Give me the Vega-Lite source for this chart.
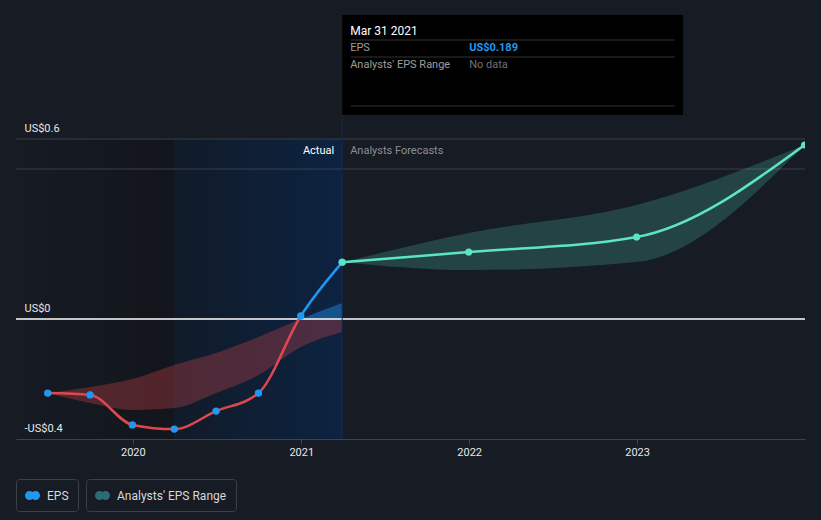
{
  "$schema": "https://vega.github.io/schema/vega-lite/v6.json",
  "autosize": {"type": "none"},
  "width": 789,
  "height": 324,
  "padding": {"left": 16, "top": 115, "right": 16, "bottom": 81},
  "background": "#161b24",
  "config": {
    "font": "Roboto",
    "view": {"stroke": null, "fill": null},
    "axis": {"grid": false, "labelFontSize": 11, "labelColor": "#e8e8e8", "labelFlush": false, "zindex": 1},
    "axisX": {"tickColor": "#3d424b", "tickSize": 5, "domainColor": "#3d424b", "labelPadding": 2},
    "axisY": {"domain": false, "ticks": false, "labelAlign": "left", "labelBaseline": "bottom", "labelPadding": -8, "labelOffset": -6, "labelOverlap": false, "labelBound": false}
  },
  "data": {"values": [{"note": "annotation"}]},
  "datasets": {
    "past": [
      {"date": "2019-06-30", "eps": -0.247},
      {"date": "2019-09-30", "eps": -0.253},
      {"date": "2019-12-31", "eps": -0.353},
      {"date": "2020-03-31", "eps": -0.367},
      {"date": "2020-06-30", "eps": -0.307},
      {"date": "2020-09-30", "eps": -0.247},
      {"date": "2020-12-31", "eps": 0.01},
      {"date": "2021-03-31", "eps": 0.189}
    ],
    "forecast": [
      {"date": "2021-03-31", "eps": 0.189},
      {"date": "2021-12-31", "eps": 0.223},
      {"date": "2022-12-31", "eps": 0.273},
      {"date": "2023-12-31", "eps": 0.58}
    ],
    "pastRange": [
      {"date": "2019-06-30", "lo": -0.247, "hi": -0.247},
      {"date": "2019-09-30", "lo": -0.28, "hi": -0.227},
      {"date": "2019-12-31", "lo": -0.303, "hi": -0.2},
      {"date": "2020-03-31", "lo": -0.297, "hi": -0.153},
      {"date": "2020-06-30", "lo": -0.247, "hi": -0.113},
      {"date": "2020-09-30", "lo": -0.187, "hi": -0.06},
      {"date": "2020-12-31", "lo": -0.093, "hi": 0.0},
      {"date": "2021-03-31", "lo": -0.043, "hi": 0.053}
    ],
    "forecastRange": [
      {"date": "2021-03-31", "lo": 0.189, "hi": 0.189},
      {"date": "2021-12-31", "lo": 0.163, "hi": 0.287},
      {"date": "2022-12-31", "lo": 0.19, "hi": 0.38},
      {"date": "2023-12-31", "lo": 0.58, "hi": 0.58}
    ],
    "legendEps": [{"s": "EPS"}],
    "legendRange": [{"s": "Analysts' EPS Range"}]
  },
  "layer": [
    {
      "mark": {"type": "rect", "color": {"gradient": "linear", "x1": 0, "y1": 0, "x2": 1, "y2": 0, "stops": [{"offset": 0, "color": "#161b24"}, {"offset": 1, "color": "#12151b"}]}},
      "encoding": {
        "x": {"datum": {"year": 2019, "month": 4, "date": 22, "utc": true}, "type": "temporal", "title": null,
              "scale": {"type": "utc", "domain": [{"year": 2019, "month": 4, "date": 22, "utc": true}, {"year": 2024, "month": 1, "date": 1, "utc": true}]}},
        "x2": {"datum": {"year": 2020, "month": 3, "date": 31, "utc": true}},
        "y": {"datum": 0.6, "type": "quantitative", "title": null,
              "scale": {"domain": [-0.4, 0.68], "nice": false, "zero": false}},
        "y2": {"datum": -0.4}
      }
    },
    {
      "mark": {"type": "rect", "color": {"gradient": "linear", "x1": 0, "y1": 0, "x2": 1, "y2": 0, "stops": [{"offset": 0, "color": "#111b29"}, {"offset": 1, "color": "#0c2341"}]}},
      "encoding": {
        "x": {"datum": {"year": 2020, "month": 3, "date": 31, "utc": true}, "type": "temporal", "title": null},
        "x2": {"datum": {"year": 2021, "month": 3, "date": 31, "utc": true}},
        "y": {"datum": 0.6, "type": "quantitative", "title": null},
        "y2": {"datum": -0.4}
      }
    },
    {
      "mark": {"type": "rule", "color": "#3a3f4a", "strokeWidth": 1},
      "encoding": {"y": {"datum": 0.6, "type": "quantitative", "title": null}}
    },
    {
      "mark": {"type": "rule", "color": "#3a3f4a", "strokeWidth": 1},
      "encoding": {"y": {"datum": 0.5, "type": "quantitative", "title": null}}
    },
    {
      "data": {"name": "pastRange"},
      "mark": {"type": "area", "interpolate": "monotone",
               "fill": {"gradient": "linear", "x1": 0, "y1": 0, "x2": 0, "y2": 1, "stops": [{"offset": 0, "color": "rgba(33,150,243,0.42)"}, {"offset": 0.149, "color": "rgba(33,150,243,0.42)"}, {"offset": 0.149, "color": "rgba(224,71,76,0.3)"}, {"offset": 1, "color": "rgba(224,71,76,0.3)"}]}},
      "encoding": {
        "x": {"field": "date", "type": "temporal", "title": null},
        "y": {"field": "hi", "type": "quantitative", "title": null},
        "y2": {"field": "lo"}
      }
    },
    {
      "data": {"name": "forecastRange"},
      "mark": {"type": "area", "interpolate": "monotone", "fill": "#5de4c7", "fillOpacity": 0.2, "clip": true},
      "encoding": {
        "x": {"field": "date", "type": "temporal", "title": null},
        "y": {"field": "hi", "type": "quantitative", "title": null},
        "y2": {"field": "lo"}
      }
    },
    {
      "mark": {"type": "rule", "color": "#ffffff", "strokeWidth": 1.5},
      "encoding": {"y": {"datum": 0, "type": "quantitative", "title": null}}
    },
    {
      "mark": {"type": "rule", "color": "#16294a", "strokeWidth": 1},
      "encoding": {
        "x": {"datum": {"year": 2021, "month": 3, "date": 31, "utc": true}, "type": "temporal", "title": null},
        "y": {"datum": 0.68, "type": "quantitative", "title": null},
        "y2": {"datum": -0.4}
      }
    },
    {
      "data": {"name": "past"},
      "mark": {"type": "line", "interpolate": "monotone", "strokeWidth": 2.5,
               "stroke": {"gradient": "linear", "x1": 0, "y1": 0, "x2": 0, "y2": 1, "stops": [{"offset": 0, "color": "#2196f3"}, {"offset": 0.34, "color": "#2196f3"}, {"offset": 0.34, "color": "#e0474c"}, {"offset": 1, "color": "#e0474c"}]}},
      "encoding": {
        "x": {"field": "date", "type": "temporal", "title": null,
              "axis": {"zindex": 1, "values": [{"year": 2020, "month": 1, "date": 1, "utc": true}, {"year": 2021, "month": 1, "date": 1, "utc": true}, {"year": 2022, "month": 1, "date": 1, "utc": true}, {"year": 2023, "month": 1, "date": 1, "utc": true}], "format": "%Y"}},
        "y": {"field": "eps", "type": "quantitative", "title": null,
              "axis": {"zindex": 1, "values": [-0.4, 0, 0.6], "labelExpr": "datum.value < 0 ? '-US$' + format(-datum.value, '') : 'US$' + format(datum.value, '')"}}
      }
    },
    {
      "data": {"name": "forecast"},
      "mark": {"type": "line", "interpolate": "monotone", "strokeWidth": 2.5, "stroke": "#5de4c7", "clip": true},
      "encoding": {
        "x": {"field": "date", "type": "temporal", "title": null},
        "y": {"field": "eps", "type": "quantitative", "title": null}
      }
    },
    {
      "data": {"name": "past"},
      "transform": [{"filter": "datum.date !== '2021-03-31'"}],
      "mark": {"type": "point", "filled": true, "fill": "#2196f3", "opacity": 1, "size": 55},
      "encoding": {
        "x": {"field": "date", "type": "temporal", "title": null},
        "y": {"field": "eps", "type": "quantitative", "title": null}
      }
    },
    {
      "data": {"name": "forecast"},
      "transform": [{"filter": "datum.date !== '2021-03-31'"}],
      "mark": {"type": "point", "filled": true, "fill": "#5de4c7", "opacity": 1, "size": 50, "clip": true},
      "encoding": {
        "x": {"field": "date", "type": "temporal", "title": null},
        "y": {"field": "eps", "type": "quantitative", "title": null}
      }
    },
    {
      "data": {"name": "past"},
      "transform": [{"filter": "datum.date === '2021-03-31'"}],
      "mark": {"type": "point", "filled": true, "fill": "#2196f3", "stroke": "#cfe3f7", "strokeWidth": 1.2, "opacity": 1, "size": 60},
      "encoding": {
        "x": {"field": "date", "type": "temporal", "title": null},
        "y": {"field": "eps", "type": "quantitative", "title": null}
      }
    },
    {
      "mark": {"type": "text", "align": "right", "baseline": "middle", "dx": -8, "fontSize": 11, "color": "#ffffff"},
      "encoding": {
        "x": {"datum": {"year": 2021, "month": 3, "date": 31, "utc": true}, "type": "temporal", "title": null},
        "y": {"datum": 0.56, "type": "quantitative", "title": null},
        "text": {"value": "Actual"}
      }
    },
    {
      "mark": {"type": "text", "align": "left", "baseline": "middle", "dx": 8, "fontSize": 11, "color": "#8a8f98"},
      "encoding": {
        "x": {"datum": {"year": 2021, "month": 3, "date": 31, "utc": true}, "type": "temporal", "title": null},
        "y": {"datum": 0.56, "type": "quantitative", "title": null},
        "text": {"value": "Analysts Forecasts"}
      }
    },
    {
      "mark": {"type": "rect", "color": "#000000"},
      "encoding": {
        "x": {"datum": {"year": 2021, "month": 3, "date": 31, "utc": true}, "type": "temporal", "title": null},
        "x2": {"datum": {"year": 2023, "month": 4, "date": 11, "utc": true}},
        "y": {"datum": 1.0133, "type": "quantitative", "title": null},
        "y2": {"datum": 0.68}
      }
    },
    {
      "mark": {"type": "rule", "color": "#333333", "strokeWidth": 1},
      "encoding": {
        "x": {"datum": {"year": 2021, "month": 4, "date": 19, "utc": true}, "type": "temporal", "title": null},
        "x2": {"datum": {"year": 2023, "month": 3, "date": 24, "utc": true}},
        "y": {"datum": 0.93, "type": "quantitative", "title": null}
      }
    },
    {
      "mark": {"type": "rule", "color": "#333333", "strokeWidth": 1},
      "encoding": {
        "x": {"datum": {"year": 2021, "month": 4, "date": 19, "utc": true}, "type": "temporal", "title": null},
        "x2": {"datum": {"year": 2023, "month": 3, "date": 24, "utc": true}},
        "y": {"datum": 0.8733, "type": "quantitative", "title": null}
      }
    },
    {
      "mark": {"type": "rule", "color": "#333333", "strokeWidth": 1},
      "encoding": {
        "x": {"datum": {"year": 2021, "month": 4, "date": 19, "utc": true}, "type": "temporal", "title": null},
        "x2": {"datum": {"year": 2023, "month": 3, "date": 24, "utc": true}},
        "y": {"datum": 0.71, "type": "quantitative", "title": null}
      }
    },
    {
      "mark": {"type": "text", "align": "left", "baseline": "middle", "dx": 8, "fontSize": 12, "color": "#ffffff"},
      "encoding": {
        "x": {"datum": {"year": 2021, "month": 3, "date": 31, "utc": true}, "type": "temporal", "title": null},
        "y": {"datum": 0.96, "type": "quantitative", "title": null},
        "text": {"value": "Mar 31 2021"}
      }
    },
    {
      "mark": {"type": "text", "align": "left", "baseline": "middle", "dx": 8, "fontSize": 11, "color": "#9e9e9e"},
      "encoding": {
        "x": {"datum": {"year": 2021, "month": 3, "date": 31, "utc": true}, "type": "temporal", "title": null},
        "y": {"datum": 0.9033, "type": "quantitative", "title": null},
        "text": {"value": "EPS"}
      }
    },
    {
      "mark": {"type": "text", "align": "left", "baseline": "middle", "dx": 127, "fontSize": 11, "fontWeight": "bold", "color": "#2196f3"},
      "encoding": {
        "x": {"datum": {"year": 2021, "month": 3, "date": 31, "utc": true}, "type": "temporal", "title": null},
        "y": {"datum": 0.9033, "type": "quantitative", "title": null},
        "text": {"value": "US$0.189"}
      }
    },
    {
      "mark": {"type": "text", "align": "left", "baseline": "middle", "dx": 8, "fontSize": 11, "color": "#9e9e9e"},
      "encoding": {
        "x": {"datum": {"year": 2021, "month": 3, "date": 31, "utc": true}, "type": "temporal", "title": null},
        "y": {"datum": 0.8467, "type": "quantitative", "title": null},
        "text": {"value": "Analysts' EPS Range"}
      }
    },
    {
      "mark": {"type": "text", "align": "left", "baseline": "middle", "dx": 127, "fontSize": 11, "color": "#707070"},
      "encoding": {
        "x": {"datum": {"year": 2021, "month": 3, "date": 31, "utc": true}, "type": "temporal", "title": null},
        "y": {"datum": 0.8467, "type": "quantitative", "title": null},
        "text": {"value": "No data"}
      }
    },
    {
      "data": {"name": "legendEps"},
      "mark": {"type": "point", "filled": true, "opacity": 0},
      "encoding": {
        "x": {"datum": {"year": 2020, "month": 1, "date": 1, "utc": true}, "type": "temporal", "title": null},
        "y": {"datum": 0, "type": "quantitative", "title": null},
        "fill": {"field": "s", "type": "nominal",
                 "scale": {"domain": ["EPS"], "range": ["#2196f3"]},
                 "legend": {"title": null, "orient": "none", "legendX": 0, "legendY": 364, "direction": "horizontal", "padding": 9, "labelOffset": 7,
                            "strokeColor": "#3a3f48", "cornerRadius": 3, "labelColor": "#d8d8d8", "labelFontSize": 12, "labelFont": "Roboto", "symbolOpacity": 1, "symbolStrokeWidth": 0, "symbolSize": 225,
                            "symbolType": "M-1,0 A0.6,0.6 0 1,0 0.2,0 A0.6,0.6 0 1,0 -1,0 Z M-0.2,0 A0.6,0.6 0 1,0 1,0 A0.6,0.6 0 1,0 -0.2,0 Z"}}
      }
    },
    {
      "data": {"name": "legendRange"},
      "mark": {"type": "point", "filled": true, "opacity": 0},
      "encoding": {
        "x": {"datum": {"year": 2020, "month": 1, "date": 1, "utc": true}, "type": "temporal", "title": null},
        "y": {"datum": 0, "type": "quantitative", "title": null},
        "color": {"field": "s", "type": "nominal",
                  "scale": {"domain": ["Analysts' EPS Range"], "range": ["#2f6a7c"]},
                  "legend": {"title": null, "orient": "none", "legendX": 70, "legendY": 364, "direction": "horizontal", "padding": 9, "labelOffset": 7,
                             "strokeColor": "#3a3f48", "cornerRadius": 3, "labelColor": "#d8d8d8", "labelFontSize": 12, "labelFont": "Roboto", "symbolOpacity": 1, "symbolStrokeWidth": 0, "symbolSize": 225,
                             "symbolType": "M-1,0 A0.6,0.6 0 1,0 0.2,0 A0.6,0.6 0 1,0 -1,0 Z M-0.2,0 A0.6,0.6 0 1,0 1,0 A0.6,0.6 0 1,0 -0.2,0 Z"}}
      }
    }
  ]
}
